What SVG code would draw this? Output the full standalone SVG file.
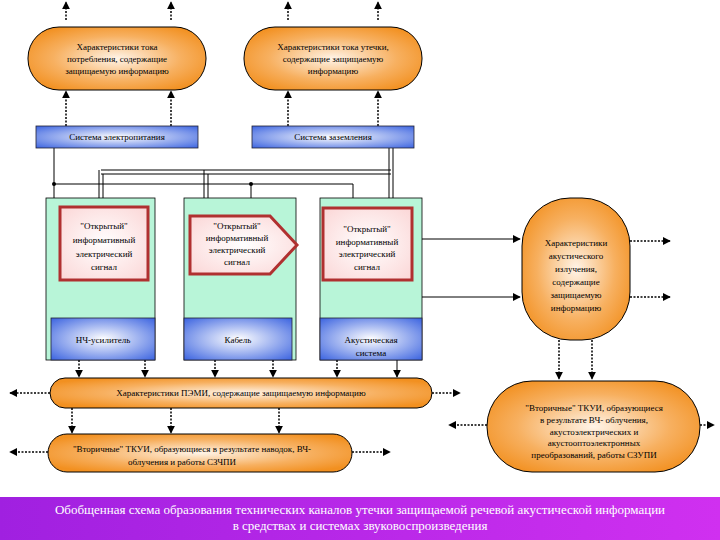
<svg xmlns="http://www.w3.org/2000/svg" width="720" height="540" viewBox="0 0 720 540">
<defs>
<radialGradient id="og" cx="0.5" cy="0.5" r="0.6"><stop offset="0" stop-color="#fff4e8"/><stop offset="0.6" stop-color="#f7b060"/><stop offset="1" stop-color="#f29020"/></radialGradient>
<radialGradient id="bg" cx="0.5" cy="0.5" r="0.7"><stop offset="0" stop-color="#ffffff"/><stop offset="1" stop-color="#3c64e0"/></radialGradient>
<radialGradient id="rg" cx="0.5" cy="0.5" r="0.7"><stop offset="0" stop-color="#ffffff"/><stop offset="1" stop-color="#fbd6d6"/></radialGradient>
<linearGradient id="pg" x1="0" x2="1"><stop offset="0" stop-color="#a020e0"/><stop offset="1" stop-color="#d030f0"/></linearGradient>
<marker id="ah" viewBox="0 0 10 10" refX="9" refY="5" markerUnits="userSpaceOnUse" markerWidth="8" markerHeight="8" orient="auto"><path d="M0,0L10,5L0,10z" fill="#000"/></marker>
<style>
.pill{fill:url(#og);stroke:#000;stroke-width:1}
.blue{fill:url(#bg);stroke:#223;stroke-width:0.8}
.grn{fill:#b8f5d8;stroke:#000;stroke-width:0.8}
.red{fill:url(#rg);stroke:#b03030;stroke-width:3}
.t{font-family:"Liberation Serif",serif;font-size:9px;fill:#000;text-anchor:middle}
.d{stroke:#000;stroke-width:1.5;stroke-dasharray:2,1.5;fill:none;marker-end:url(#ah)}
.s{stroke:#000;stroke-width:1;fill:none}
</style>
</defs>
<rect width="720" height="540" fill="#fff"/>
<g id="connectors">
<path class="d" d="M66,20V2"/><path class="d" d="M171,20V2"/><path class="d" d="M288,20V2"/><path class="d" d="M378,20V2"/>
<path class="d" d="M66,126V91"/><path class="d" d="M171,126V91"/><path class="d" d="M288,126V91"/><path class="d" d="M378,126V91"/>
<path class="s" d="M54,148V198"/>
<path class="s" d="M389,148V198M393,148V198"/>
<path class="s" d="M101,170H391M101,174H391M99,170V198M103,174V198M204,170V198M208,174V198"/>
<path class="s" d="M54,184H353V198M251,184V198" stroke-width="2.5"/>
<circle cx="54" cy="184" r="2" fill="#000"/><circle cx="251" cy="184" r="2" fill="#000"/>
<path class="s" d="M422,239H520" stroke-width="3" marker-end="url(#ah)"/>
<path class="s" d="M422,297H520" stroke-width="2" marker-end="url(#ah)"/>
<path class="d" d="M630,241H670"/><path class="d" d="M630,297H670"/>
<path class="d" d="M559,340V379"/><path class="d" d="M592,340V379"/>
<path class="d" d="M487,425H449"/><path class="d" d="M700,425H714"/>
<path class="d" d="M79,360V377"/><path class="d" d="M145,360V377"/><path class="d" d="M215,360V377"/><path class="d" d="M273,360V377"/><path class="d" d="M337,360V377"/>
<path class="s" d="M397,360V377" marker-end="url(#ah)"/>
<path class="d" d="M50,393H10"/><path class="d" d="M432,393H460"/>
<path class="d" d="M72,408V433"/><path class="d" d="M171,408V433"/><path class="d" d="M279,408V433"/>
<path class="d" d="M48,452H10"/><path class="d" d="M352,452H390"/>
</g>
<g id="n1"><rect class="pill" x="28" y="27" width="178" height="63" rx="31"/>
<text class="t"><tspan x="117" y="50">Характеристики тока</tspan><tspan x="117" y="62">потребления, содержащие</tspan><tspan x="117" y="74">защищаемую информацию</tspan></text></g>
<g id="n2"><rect class="pill" x="244" y="27" width="178" height="63" rx="31"/>
<text class="t"><tspan x="333" y="50">Характеристики тока  утечки,</tspan><tspan x="333" y="62">содержащие защищаемую</tspan><tspan x="333" y="74">информацию</tspan></text></g>
<g id="n3"><rect class="blue" x="36" y="126" width="162" height="22"/><text class="t" x="117" y="140">Система электропитания</text></g>
<g id="n4"><rect class="blue" x="252" y="126" width="162" height="22"/><text class="t" x="333" y="140">Система заземления</text></g>
<g id="n5"><rect class="grn" x="46" y="198" width="109" height="162"/><rect class="red" x="60" y="207" width="88" height="73"/>
<text class="t"><tspan x="104" y="229">"Открытый"</tspan><tspan x="104" y="243">информативный</tspan><tspan x="104" y="257">электрический</tspan><tspan x="104" y="270">сигнал</tspan></text>
<rect class="blue" x="51" y="318" width="104" height="42"/><text class="t" x="103" y="343">НЧ-усилитель</text></g>
<g id="n6"><rect class="grn" x="184" y="198" width="112" height="162"/><path class="red" d="M190,216H270L297,245L270,274H190Z"/>
<text class="t"><tspan x="237" y="229">"Открытый"</tspan><tspan x="237" y="241">информативный</tspan><tspan x="237" y="253">электрический</tspan><tspan x="237" y="265">сигнал</tspan></text>
<rect class="blue" x="184" y="318" width="108" height="42"/><text class="t" x="238" y="343">Кабель</text></g>
<g id="n7"><rect class="grn" x="320" y="198" width="102" height="162"/><rect class="red" x="323" y="208" width="89" height="72"/>
<text class="t"><tspan x="367" y="232">"Открытый"</tspan><tspan x="367" y="245">информативный</tspan><tspan x="367" y="257">электрический</tspan><tspan x="367" y="270">сигнал</tspan></text>
<rect class="blue" x="320" y="318" width="102" height="42"/><text class="t"><tspan x="371" y="343">Акустическая</tspan><tspan x="371" y="356">система</tspan></text></g>
<g id="n8"><rect class="pill" x="522" y="198" width="108" height="142" rx="48"/>
<text class="t"><tspan x="576" y="246">Характеристики</tspan><tspan x="576" y="259">акустического</tspan><tspan x="576" y="272">излучения,</tspan><tspan x="576" y="285">содержащие</tspan><tspan x="576" y="298">защищаемую</tspan><tspan x="576" y="311">информацию</tspan></text></g>
<g id="n9"><rect class="pill" x="487" y="381" width="213" height="91" rx="45"/>
<text class="t"><tspan x="594" y="411">"Вторичные" ТКУИ, образующиеся</tspan><tspan x="594" y="423">в результате ВЧ- облучения,</tspan><tspan x="594" y="435">акустоэлектрических и</tspan><tspan x="594" y="446">акустооптоэлектронных</tspan><tspan x="594" y="458">преобразований, работы СЗУПИ</tspan></text></g>
<g id="n10"><rect class="pill" x="50" y="378" width="382" height="30" rx="15"/><text class="t" x="241" y="396">Характеристики ПЭМИ, содержащие защищаемую информацию</text></g>
<g id="n11"><rect class="pill" x="48" y="434" width="304" height="38" rx="19"/>
<text class="t"><tspan x="192" y="452">"Вторичные" ТКУИ, образующиеся в результате наводок,      ВЧ-</tspan><tspan x="182" y="465">облучения и работы СЗЧПИ</tspan></text></g>
<g id="banner"><rect x="0" y="497" width="720" height="43" fill="url(#pg)"/>
<text font-family="Liberation Serif,serif" font-size="13" fill="#fff" text-anchor="middle"><tspan x="360" y="514">Обобщенная схема образования технических каналов утечки защищаемой речевой акустической информации</tspan><tspan x="360" y="530">в средствах и системах звуковоспроизведения</tspan></text></g>
</svg>
